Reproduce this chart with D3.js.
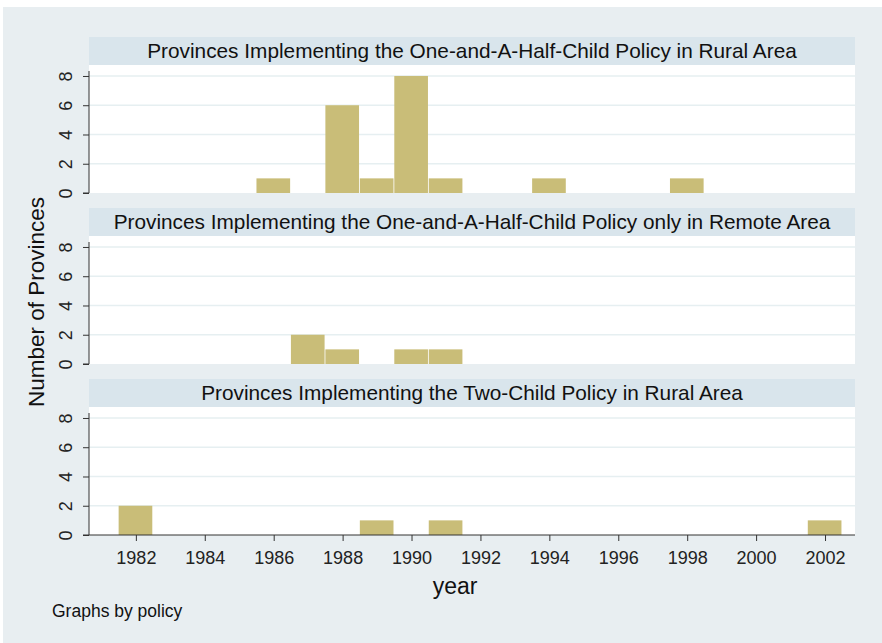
<!DOCTYPE html>
<html>
<head>
<meta charset="utf-8">
<script src="https://cdn.jsdelivr.net/npm/d3@7"></script>
<style>
  body { margin: 0; background: #ffffff; }
  svg { display: block; font-family: "Liberation Sans", Arial, sans-serif; }
</style>
</head>
<body>
<svg id="chart" width="882" height="643"></svg>
<script>
// panel titles (one histogram per policy)
var policies = [
  "Provinces Implementing the One-and-A-Half-Child Policy in Rural Area",
  "Provinces Implementing the One-and-A-Half-Child Policy only in Remote Area",
  "Provinces Implementing the Two-Child Policy in Rural Area"
];

// years of the bars and their counts, per panel
var ruralYears   = [1986, 1988, 1989, 1990, 1991, 1994, 1998];
var ruralCounts  = [1, 6, 1, 8, 1, 1, 1];
var remoteYears  = [1987, 1988, 1990, 1991];
var remoteCounts = [2, 1, 1, 1];
var twoYears     = [1982, 1989, 1991, 2002];
var twoCounts    = [2, 1, 1, 1];

var xTicks = [1982, 1984, 1986, 1988, 1990, 1992, 1994, 1996, 1998, 2000, 2002];
var yTicks = [0, 2, 4, 6, 8];

var panels = [
  { title: policies[0], years: ruralYears,  counts: ruralCounts },
  { title: policies[1], years: remoteYears, counts: remoteCounts },
  { title: policies[2], years: twoYears,    counts: twoCounts }
];

var svg = d3.select("#chart");

// outer graph region
svg.append("rect")
    .attr("x", 3).attr("y", 7)
    .attr("width", 879).attr("height", 636)
    .attr("fill", "#e8eef1");

var left = 89, right = 855;
var stripH = 28, plotH = 128;
var panelTops = [37, 208, 379];

var x = d3.scaleLinear()
    .domain([1980.64, 2002.87])
    .range([left, right]);

panels.forEach(function(p, i) {
  var top = panelTops[i];
  var plotTop = top + stripH;
  var plotBottom = plotTop + plotH;

  var y = d3.scaleLinear()
      .domain([0, 8.75])
      .range([plotBottom, plotTop]);

  var g = svg.append("g").attr("id", "panel_" + i);

  // strip with title
  g.append("rect")
      .attr("x", left).attr("y", top)
      .attr("width", right - left).attr("height", stripH)
      .attr("fill", "#d9e5ec");
  g.append("text")
      .attr("x", (left + right) / 2)
      .attr("y", top + stripH / 2 + 7)
      .attr("text-anchor", "middle")
      .attr("font-size", "20.8px")
      .attr("fill", "#111")
      .text(p.title);

  // plot region
  g.append("rect")
      .attr("x", left).attr("y", plotTop)
      .attr("width", right - left).attr("height", plotH)
      .attr("fill", "#ffffff");

  // grid lines
  g.selectAll("line.grid")
      .data(yTicks.slice(1))
      .enter().append("line")
      .attr("class", "grid")
      .attr("x1", left).attr("x2", right)
      .attr("y1", function(d) { return y(d); })
      .attr("y2", function(d) { return y(d); })
      .attr("stroke", "#e6eff1")
      .attr("stroke-width", 1.5);

  // bars, one year wide, centred on the year
  var data = p.years.map(function(yr, k) { return { year: yr, n: p.counts[k] }; });
  g.selectAll("rect.bar")
      .data(data)
      .enter().append("rect")
      .attr("class", "bar")
      .attr("x", function(d) { return x(d.year - 0.5); })
      .attr("width", function(d) { return x(d.year + 0.5) - x(d.year - 0.5) - 0.8; })
      .attr("y", function(d) { return y(d.n); })
      .attr("height", function(d) { return y(0) - y(d.n); })
      .attr("fill", "#c9bd78");

  // y axis
  var yAxis = g.append("g")
      .attr("transform", "translate(" + left + ",0)")
      .call(d3.axisLeft(y).tickValues(yTicks).tickSize(6).tickPadding(4));
  yAxis.select(".domain").attr("stroke", "#333").attr("d", "M-6," + plotBottom + "H0V" + (plotTop + 6));
  yAxis.selectAll(".tick line").attr("stroke", "#333");
  yAxis.selectAll(".tick text")
      .attr("font-size", "18px")
      .attr("fill", "#222")
      .attr("transform", "rotate(-90,-23,0)")
      .attr("x", -23).attr("dy", "0.35em")
      .attr("text-anchor", "middle");

  // x axis only on the last panel
  if (i === panels.length - 1) {
    var xAxis = g.append("g")
        .attr("transform", "translate(0," + plotBottom + ")")
        .call(d3.axisBottom(x).tickValues(xTicks).tickFormat(d3.format("d")).tickSize(6).tickPadding(10));
    xAxis.select(".domain").attr("stroke", "#333").attr("d", "M" + left + ",0H" + right);
    xAxis.selectAll(".tick line").attr("stroke", "#333");
    xAxis.selectAll(".tick text").attr("font-size", "18px").attr("fill", "#222");
  }
});

// axis titles
svg.append("text")
    .attr("transform", "translate(44,302) rotate(-90)")
    .attr("text-anchor", "middle")
    .attr("font-size", "22.5px")
    .attr("fill", "#111")
    .text("Number of Provinces");

svg.append("text")
    .attr("x", 455).attr("y", 594)
    .attr("text-anchor", "middle")
    .attr("font-size", "23px")
    .attr("fill", "#111")
    .text("year");

svg.append("text")
    .attr("x", 52).attr("y", 617)
    .attr("font-size", "17.5px")
    .attr("fill", "#111")
    .text("Graphs by policy");
</script>
</body>
</html>
